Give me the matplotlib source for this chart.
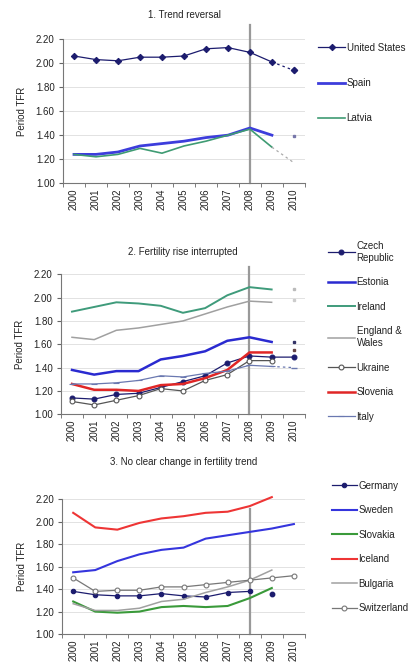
#------------------------------------------------------------------------------
# Period TFR before and after 2008 - three groups of countries
#------------------------------------------------------------------------------

import numpy as np
import matplotlib.pyplot as plt
from matplotlib.ticker import FixedLocator

plt.rcParams['font.family'] = ['Liberation Sans', 'DejaVu Sans']
plt.rcParams['font.size'] = 7
plt.rcParams['text.color'] = '#222222'
plt.rcParams['axes.labelcolor'] = '#222222'
plt.rcParams['xtick.color'] = '#222222'
plt.rcParams['ytick.color'] = '#222222'

years = ['2000', '2001', '2002', '2003', '2004', '2005', '2006', '2007',
         '2008', '2009', '2010']

# 1. Trend reversal
us = [2.06, 2.03, 2.02, 2.05, 2.05, 2.06, 2.12, 2.13, 2.09, 2.01, 1.94]
spain = [1.24, 1.24, 1.26, 1.31, 1.33, 1.35, 1.38, 1.40, 1.46, 1.40, 1.39]
latvia = [1.24, 1.22, 1.24, 1.29, 1.25, 1.31, 1.35, 1.40, 1.45, 1.30, 1.17]

# 2. Fertility rise interrupted
czech = [1.14, 1.13, 1.17, 1.18, 1.23, 1.28, 1.33, 1.44, 1.50, 1.49, 1.49]
estonia = [1.38, 1.34, 1.37, 1.37, 1.47, 1.50, 1.54, 1.63, 1.66, 1.62, 1.62]
ireland = [1.88, 1.92, 1.96, 1.95, 1.93, 1.87, 1.91, 2.02, 2.09, 2.07, 2.07]
eng_wales = [1.66, 1.64, 1.72, 1.74, 1.77, 1.80, 1.86, 1.92, 1.97, 1.96, 1.98]
ukraine = [1.11, 1.08, 1.12, 1.16, 1.22, 1.20, 1.29, 1.34, 1.46, 1.46]
slovenia = [1.26, 1.21, 1.21, 1.20, 1.25, 1.26, 1.31, 1.38, 1.53, 1.53, 1.55]
italy = [1.26, 1.26, 1.27, 1.29, 1.33, 1.32, 1.35, 1.37, 1.42, 1.41, 1.40]

# 3. No clear change in fertility trend
germany = [1.38, 1.35, 1.34, 1.34, 1.36, 1.34, 1.33, 1.37, 1.38, 1.36]
sweden = [1.55, 1.57, 1.65, 1.71, 1.75, 1.77, 1.85, 1.88, 1.91, 1.94, 1.98]
slovakia = [1.29, 1.20, 1.19, 1.20, 1.24, 1.25, 1.24, 1.25, 1.32, 1.41]
iceland = [2.08, 1.95, 1.93, 1.99, 2.03, 2.05, 2.08, 2.09, 2.14, 2.22]
bulgaria = [1.27, 1.21, 1.21, 1.23, 1.29, 1.31, 1.37, 1.42, 1.48, 1.57]
switzerland = [1.50, 1.38, 1.39, 1.39, 1.42, 1.42, 1.44, 1.46, 1.48, 1.50, 1.52]

NAVY = '#1c1c6e'

#------------------------------------------------------------------------------
def draw(ax, vals, label, color, lw=1.0, marker=None, mfc=None, ms=3.5,
         tail='line', tail_color=None, upto=None):
    """Solid line up to 2009 (or `upto`), then the rest drawn as `tail`."""
    x = np.arange(len(vals))
    n = len(vals) if tail == 'line' else min(len(vals), 10)
    if upto is not None:
        n = upto
    ax.plot(x[:n], vals[:n], color=color, lw=lw, marker=marker, ms=ms,
            mfc=mfc or color, mec=color, mew=0.8, label=label, clip_on=False)
    tc = tail_color or color
    if tail == 'dash' and len(vals) > 10:
        ax.plot(x[9:11], vals[9:11], color=tc, lw=0.9, ls=(0, (2, 2.5)),
                marker=marker, markevery=[1], ms=ms, mfc=mfc or tc, mec=tc)
    elif tail == 'mark':
        ax.plot(x[n:], vals[n:], ls='none', marker=marker or 's',
                ms=ms if marker else 2.0, color=tc, mec=tc)

#------------------------------------------------------------------------------
def style(ax, title, pad, vtop):
    ax.set_xlim(-0.5, 10.5)
    ax.set_ylim(1.0, 2.2)
    ticks = np.arange(1.0, 2.21, 0.2)
    ax.set_yticks(ticks)
    ax.set_yticklabels([f'{t:.2f}' for t in ticks])
    ax.set_xticks(range(len(years)))
    ax.set_xticklabels(years, rotation=90)
    ax.xaxis.set_minor_locator(FixedLocator(np.arange(-0.5, 11, 1.0)))
    ax.tick_params(axis='x', which='major', length=0, pad=4)
    ax.tick_params(axis='x', which='minor', length=3, color='#666666')
    ax.tick_params(axis='y', length=3, color='#666666', pad=3)
    ax.yaxis.grid(True, color='#e2e2e2', lw=0.7)
    ax.set_axisbelow(True)
    for s in ('top', 'right'):
        ax.spines[s].set_visible(False)
    for s in ('left', 'bottom'):
        ax.spines[s].set_color('#777777')
        ax.spines[s].set_linewidth(0.8)
    ax.set_ylabel('Period TFR', labelpad=6)
    ax.set_title(title, pad=pad, fontsize=7)
    # the 2008 marker line
    ax.axvline(8, ymin=0, ymax=vtop, color='#999999', lw=1.6, clip_on=False,
               zorder=1)

#------------------------------------------------------------------------------
fig = plt.figure(figsize=(4.2, 6.71), dpi=100)

# Panel 1
ax1 = fig.add_axes([0.150, 0.727, 0.576, 0.2146])
style(ax1, '1. Trend reversal', 15, 1.1)
draw(ax1, us, 'United States', NAVY, lw=0.9, marker='D', ms=3.2, tail='dash')
draw(ax1, spain, 'Spain', '#3d3ddc', lw=2.0, tail='mark', tail_color='#7777aa')
draw(ax1, latvia, 'Latvia', '#3f9b73', lw=1.2, tail='dash',
     tail_color='#aaaaaa')
ax1.legend(loc='upper left', bbox_to_anchor=(1.054, 0.975), frameon=False,
           borderaxespad=0, borderpad=0, handlelength=2.8, handletextpad=0.15,
           labelspacing=2.6, fontsize=7)

# Panel 2
ax2 = fig.add_axes([0.145, 0.3826, 0.581, 0.2086])
style(ax2, '2. Fertility rise interrupted', 14, 1.05)
draw(ax2, czech, 'Czech\nRepublic', NAVY, lw=0.9, marker='o', ms=3.5)
draw(ax2, estonia, 'Estonia', '#2a2ad0', lw=1.8, tail='mark',
     tail_color='#333366')
draw(ax2, ireland, 'Ireland', '#3f9b7b', lw=1.4, tail='mark',
     tail_color='#bbbbbb')
draw(ax2, eng_wales, 'England &\nWales', '#a0a0a0', lw=1.1, tail='mark',
     tail_color='#cccccc')
draw(ax2, ukraine, 'Ukraine', '#555555', lw=0.9, marker='o', mfc='white',
     ms=3.5)
draw(ax2, slovenia, 'Slovenia', '#e02626', lw=1.8, tail='mark',
     tail_color='#664444')
draw(ax2, italy, 'Italy', '#6a78b0', lw=0.9, marker='_', ms=4, tail='dash')
ax2.legend(loc='upper left', bbox_to_anchor=(1.094, 1.238), frameon=False,
           borderaxespad=0, borderpad=0, handlelength=2.8, handletextpad=0.15,
           labelspacing=1.5, fontsize=7)

# Panel 3
ax3 = fig.add_axes([0.148, 0.0551, 0.578, 0.2007])
style(ax3, '3. No clear change in fertility trend', 25, 0.93)
draw(ax3, germany, 'Germany', NAVY, lw=0.9, marker='o', ms=3.2, tail='mark',
     upto=9)
draw(ax3, sweden, 'Sweden', '#3535dd', lw=1.5)
draw(ax3, slovakia, 'Slovakia', '#3a9a3a', lw=1.5)
draw(ax3, iceland, 'Iceland', '#ee3535', lw=1.5)
draw(ax3, bulgaria, 'Bulgaria', '#a0a0a0', lw=1.1)
draw(ax3, switzerland, 'Switzerland', '#777777', lw=0.9, marker='o',
     mfc='white', ms=3.5)
ax3.legend(loc='upper left', bbox_to_anchor=(1.11, 1.14), frameon=False,
           borderaxespad=0, borderpad=0, handlelength=2.6, handletextpad=0.15,
           labelspacing=1.5, fontsize=7)

fig.savefig('out.png', dpi=100)
